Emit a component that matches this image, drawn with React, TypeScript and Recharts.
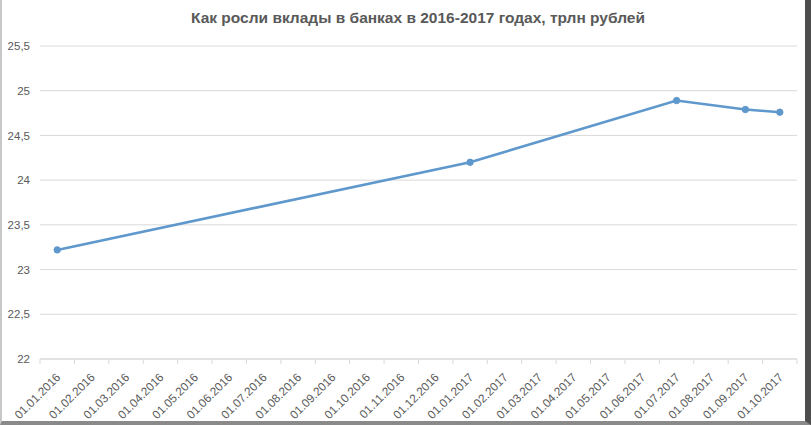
import React from 'react';
import { LineChart, Line, XAxis, YAxis, CartesianGrid } from 'recharts';

// monthly axis, values only known for a few dates (trillion rubles)
const months = [
  '01.01.2016', '01.02.2016', '01.03.2016', '01.04.2016', '01.05.2016', '01.06.2016',
  '01.07.2016', '01.08.2016', '01.09.2016', '01.10.2016', '01.11.2016', '01.12.2016',
  '01.01.2017', '01.02.2017', '01.03.2017', '01.04.2017', '01.05.2017', '01.06.2017',
  '01.07.2017', '01.08.2017', '01.09.2017', '01.10.2017',
];
const depositDates = ['01.01.2016', '01.01.2017', '01.07.2017', '01.09.2017', '01.10.2017'];
const depositValues = [23.22, 24.2, 24.89, 24.79, 24.76];
const yTicks = [22, 22.5, 23, 23.5, 24, 24.5, 25, 25.5];
const monthBoundaries = months.map((_, i) => i).concat(months.length);

const data = months.map((m, i) => {
  const k = depositDates.indexOf(m);
  return { month: m, idx: i + 0.5, value: k >= 0 ? depositValues[k] : null };
});

const GREY = '#595959';
const LINE = '#5f98cc';

const MonthTick = (props: any) => {
  const { x, y, payload } = props;
  return (
    <g transform={`translate(${x + 4},${y + 18})`}>
      <text transform="rotate(-45)" textAnchor="end" fill={GREY} fontSize={11.8} fontFamily="'Liberation Sans', Arial, sans-serif">
        {payload.value}
      </text>
    </g>
  );
};

export default function App() {
  return (
    <div style={{ position: 'absolute', left: 0, top: 0, width: 811, height: 425, background: '#fff', overflow: 'hidden' }}>
      <div
        style={{
          position: 'absolute', left: 0, top: 18, width: 836, textAlign: 'center',
          fontFamily: "'Liberation Sans', Arial, sans-serif", fontWeight: 'bold', fontSize: 15.5,
          color: GREY, lineHeight: '1', transform: 'translateY(-50%)',
        }}
      >
        Как росли вклады в банках в 2016-2017 годах, трлн рублей
      </div>
      <LineChart width={811} height={425} data={data} margin={{ top: 46, right: 14, bottom: 0, left: 0 }}>
        <CartesianGrid vertical={false} stroke="#d9d9d9" />
        <XAxis
          xAxisId="a_ticks"
          type="number"
          dataKey="idx"
          domain={[0, months.length]}
          ticks={monthBoundaries}
          height={1}
          tick={() => <g />}
          tickSize={5}
          axisLine={{ stroke: '#d9d9d9' }}
          tickLine={{ stroke: '#d9d9d9' }}
        />
        <XAxis
          xAxisId="b_labels"
          dataKey="month"
          scale="band"
          interval={0}
          height={65}
          tickSize={0}
          tickMargin={0}
          axisLine={false}
          tickLine={false}
          tick={<MonthTick />}
        />
        <YAxis
          type="number"
          domain={[22, 25.5]}
          ticks={yTicks}
          width={40}
          axisLine={false}
          tickLine={false}
          tickMargin={4}
          tick={{ fill: GREY, fontSize: 11.5, fontFamily: "'Liberation Sans', Arial, sans-serif" }}
          tickFormatter={(v: number) => String(v).replace('.', ',')}
        />
        <Line
          xAxisId="b_labels"
          dataKey="value"
          stroke={LINE}
          strokeWidth={2.6}
          dot={{ r: 3.2, fill: LINE, stroke: LINE, strokeWidth: 1 }}
          connectNulls
          isAnimationActive={false}
        />
      </LineChart>
      <div
        style={{
          position: 'absolute', left: 0, top: 0, width: 811, height: 425, boxSizing: 'border-box',
          borderLeft: '2px solid #c8c8c8', borderRight: '6px solid #4d4d4d', borderBottom: '4px solid #8a8a8a',
          pointerEvents: 'none',
        }}
      />
    </div>
  );
}
